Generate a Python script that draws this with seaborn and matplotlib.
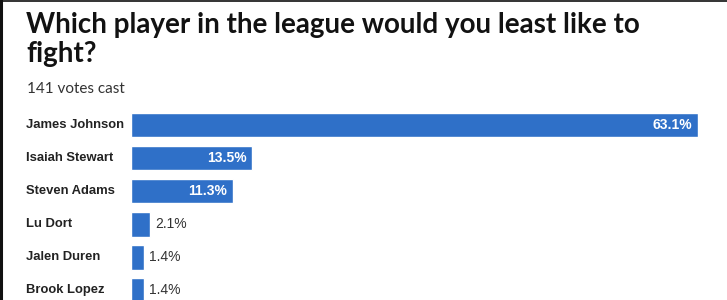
import matplotlib
matplotlib.use("Agg")
import matplotlib.pyplot as plt
import matplotlib.transforms as mtransforms
import seaborn as sns
import pandas as pd

players = ["James Johnson", "Isaiah Stewart", "Steven Adams", "Lu Dort", "Jalen Duren", "Brook Lopez"]
shares = [63.1, 13.5, 11.3, 2.1, 1.4, 1.4]
title_lines = ["Which player in the league would you least like to", "fight?"]
subtitle = "141 votes cast"

df = pd.DataFrame({"player": players, "share": shares})

sns.set_theme(style="white")
plt.rcParams["font.family"] = ["Liberation Sans", "DejaVu Sans"]

W, H = 727, 300
fig = plt.figure(figsize=(W / 100, H / 100), dpi=100)
fig.patch.set_facecolor("white")

left_px, right_px = 131, 698
top_px = 108.5
ax = fig.add_axes([left_px / W, 0, (right_px - left_px) / W, 1 - top_px / H])

bar_color = "#2f70c8"
sns.barplot(data=df, x="share", y="player", orient="h", color=bar_color,
            width=0.74, saturation=1, ax=ax)
ax.set_xlim(0, max(shares))
ax.set_ylim(5 + (300 - 290.5) / 33, -0.5)
ax.set_xlabel("")
ax.set_ylabel("")
ax.set_xticks([])
ax.set_yticks([])
for s in ax.spines.values():
    s.set_visible(False)
ax.set_facecolor("none")

name_tr = mtransforms.blended_transform_factory(fig.transFigure, ax.transData)
for i, (p, v) in enumerate(zip(players, shares)):
    ax.text(26 / W, i, p, transform=name_tr, ha="left", va="center",
            fontsize=9.4, fontweight="bold", color="#222222")
    lab = f"{v:.1f}%"
    if v >= 10:
        off = mtransforms.offset_copy(ax.transData, fig=fig, x=-6, y=0, units="dots")
        ax.text(v, i, lab, transform=off, ha="right", va="center",
                fontsize=10, color="white", fontweight="bold")
    else:
        off = mtransforms.offset_copy(ax.transData, fig=fig, x=5, y=0, units="dots")
        ax.text(v, i, lab, transform=off, ha="left", va="center",
                fontsize=10, color="#333333")

title_font = ["Lato", "Liberation Sans", "DejaVu Sans"]
for k, line in enumerate(title_lines):
    fig.text(26 / W, 1 - (33 + 29 * k) / H, line, ha="left", va="baseline",
             fontsize=20, fontweight="bold", color="#121212", family=title_font)
fig.text(27 / W, 1 - 93 / H, subtitle, ha="left", va="baseline",
         fontsize=11, color="#333333", family=title_font)

# frame edges (left and top) as in the screenshot
fig.add_artist(plt.Line2D([1.5 / W, 1.5 / W], [0, 1], transform=fig.transFigure,
                          color="#111111", linewidth=2.2))
fig.add_artist(plt.Line2D([0, 1], [1 - 0.5 / H, 1 - 0.5 / H], transform=fig.transFigure,
                          color="#111111", linewidth=1.2))

fig.savefig("out.png", dpi=100)
